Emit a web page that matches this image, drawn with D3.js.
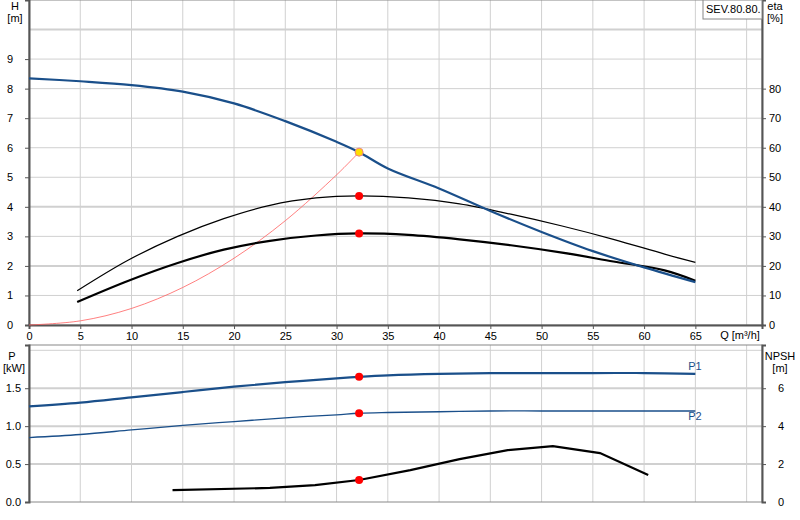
<!DOCTYPE html><html><head><meta charset="utf-8"><script src="https://cdn.jsdelivr.net/npm/d3@7"></script>
<style>body{margin:0;background:#fff}text{font-family:"Liberation Sans",Arial,sans-serif;font-size:11px}</style></head><body><svg id="c" width="800" height="520"></svg><script>
const qTicks=[0,5,10,15,20,25,30,35,40,45,50,55,60,65];
const hTicks=[0,1,2,3,4,5,6,7,8,9];
const etaTicks=[0,10,20,30,40,50,60,70,80];
const pTicks=[0,0.5,1,1.5];
const npshTicks=[0,2,4,6];
const headQ=[0,5,10,15,20,25,30,32.2,35,40,45,50,55,60,65];
const headH=[8.35,8.25,8.12,7.9,7.5,6.9,6.2,5.85,5.3,4.62,3.86,3.15,2.5,1.95,1.45];
const etaQ=[4.7,9.7,14.5,19,23.5,28,32.2,37,42,47,52,57,62,65];
const eta1=[11.6,22,30,36,40.5,43,43.7,43,41,37.5,33.5,29,24,21.2];
const eta2=[7.8,15,21,25.5,28.5,30.3,31,30.5,29,27,24.5,21.5,18.5,15];
const sysQ=[0,5,10,15,20,25,30,32.2];
const sysH=[0,0.14,0.56,1.27,2.26,3.53,5.08,5.85];
const pQ=[0,5,10,15,20,25,30,32.2,35,40,45,50,55,60,65];
const p1=[1.26,1.31,1.38,1.45,1.52,1.58,1.63,1.65,1.67,1.69,1.70,1.70,1.70,1.70,1.69];
const p2=[0.85,0.89,0.95,1.01,1.06,1.11,1.15,1.17,1.18,1.19,1.20,1.20,1.20,1.20,1.20];
const nQ=[14,23.5,27.9,32.2,37.2,42,46.7,51.1,55.7,60.4];
const npsh=[0.63,0.74,0.89,1.16,1.68,2.26,2.74,2.95,2.58,1.42];
const dutyQ=32.2;
const svg=d3.select("#c");
const x=d3.scaleLinear().domain([0,71.5]).range([29,762]);
const yH=d3.scaleLinear().domain([0,11]).range([325,0]);
const yE=d3.scaleLinear().domain([0,110]).range([325,0]);
const yP=d3.scaleLinear().domain([0,2.07]).range([502,345]);
const yN=d3.scaleLinear().domain([0,8.28]).range([502,345]);
const grid="#d0d0d0";
function panel(yl,top,bot,hv,thick){
 const g=svg.append("g");
 x.ticks(15).filter(v=>v<=70).forEach(v=>g.append("line").attr("x1",x(v)).attr("x2",x(v)).attr("y1",top).attr("y2",bot).attr("stroke",grid));
 hv.forEach(v=>g.append("line").attr("x1",29).attr("x2",762).attr("y1",yl(v)).attr("y2",yl(v)).attr("stroke",grid).attr("stroke-width",thick.includes(v)?2:1));
 g.append("rect").attr("x",29).attr("y",top).attr("width",733).attr("height",bot-top).attr("fill","none").attr("stroke","#888");
}
panel(yH,0,325,[1,2,3,4,5,6,7,8,9,10],[2,4,10]);
panel(yP,345,502,[0.5,1,1.5,2],[0.5,1,1.5]);
const axH=svg.append("g").attr("transform","translate(29,0)").call(d3.axisLeft(yH).tickValues(hTicks).tickSize(4).tickPadding(12));
const axE=svg.append("g").attr("transform","translate(762,0)").call(d3.axisRight(yE).tickValues(etaTicks).tickSize(4));
const axQ=svg.append("g").attr("transform","translate(0,325)").call(d3.axisBottom(x).tickValues(qTicks).tickSize(4));
const axP=svg.append("g").attr("transform","translate(29,0)").call(d3.axisLeft(yP).tickValues(pTicks).tickFormat(d3.format(".1f")).tickSize(4).tickPadding(4));
const axN=svg.append("g").attr("transform","translate(762,0)").call(d3.axisRight(yN).tickValues(npshTicks).tickSize(4).tickPadding(12));
[axH,axE,axQ,axP,axN].forEach(a=>{a.select(".domain").attr("stroke","#555").attr("stroke-width",2);a.selectAll("line").attr("stroke","#555");a.selectAll("text").attr("fill","#000").style("font-size","11px");});
function txt(s,xx,yy,anchor,col){svg.append("text").attr("x",xx).attr("y",yy).attr("text-anchor",anchor||"start").attr("fill",col||"#000").text(s);}
txt("H",15,10,"middle");txt("[m]",15,22,"middle");
txt("eta",775,10,"middle");txt("[%]",775,22,"middle");
txt("Q [m³/h]",740,339,"middle");
txt("P",12,360,"middle");txt("[kW]",14,372,"middle");
txt("NPSH",780,360,"middle");txt("[m]",780,372,"middle");
svg.append("rect").attr("x",703).attr("y",0).attr("width",59).attr("height",19).attr("fill","#fff").attr("stroke","#888");
txt("SEV.80.80.",706,13);
const L=(xs,ys,sx,sy)=>d3.line().curve(d3.curveCatmullRom).x((d,i)=>sx(xs[i])).y((d,i)=>sy(ys[i]))(xs);
function path(d,c,w){svg.append("path").attr("d",d).attr("fill","none").attr("stroke",c).attr("stroke-width",w);}
path(L(sysQ,sysH,x,yH),"#ff6060",0.8);
path(L(etaQ,eta1,x,yE),"#000",1.2);
path(L(etaQ,eta2,x,yE),"#000",2.2);
path(L(headQ,headH,x,yH),"#1a4f8a",2.2);
path(L(pQ,p1,x,yP),"#1a4f8a",2.2);
path(L(pQ,p2,x,yP),"#1a4f8a",1.3);
path(d3.line().x((d,i)=>x(nQ[i])).y((d,i)=>yN(npsh[i]))(nQ),"#000",2.2);
txt("P1",695,370,"middle","#1a4f8a");txt("P2",695,420,"middle","#1a4f8a");
function dot(cy,f,s){svg.append("circle").attr("cx",x(dutyQ)).attr("cy",cy).attr("r",4).attr("fill",f).attr("stroke",s||"none");}
dot(yE(eta1[6]),"red");dot(yE(eta2[6]),"red");
dot(yP(p1[7]),"red");dot(yP(p2[7]),"red");dot(yN(npsh[3]),"red");
dot(yH(headH[7]),"#ffdd00","#f08080");
</script></body></html>
